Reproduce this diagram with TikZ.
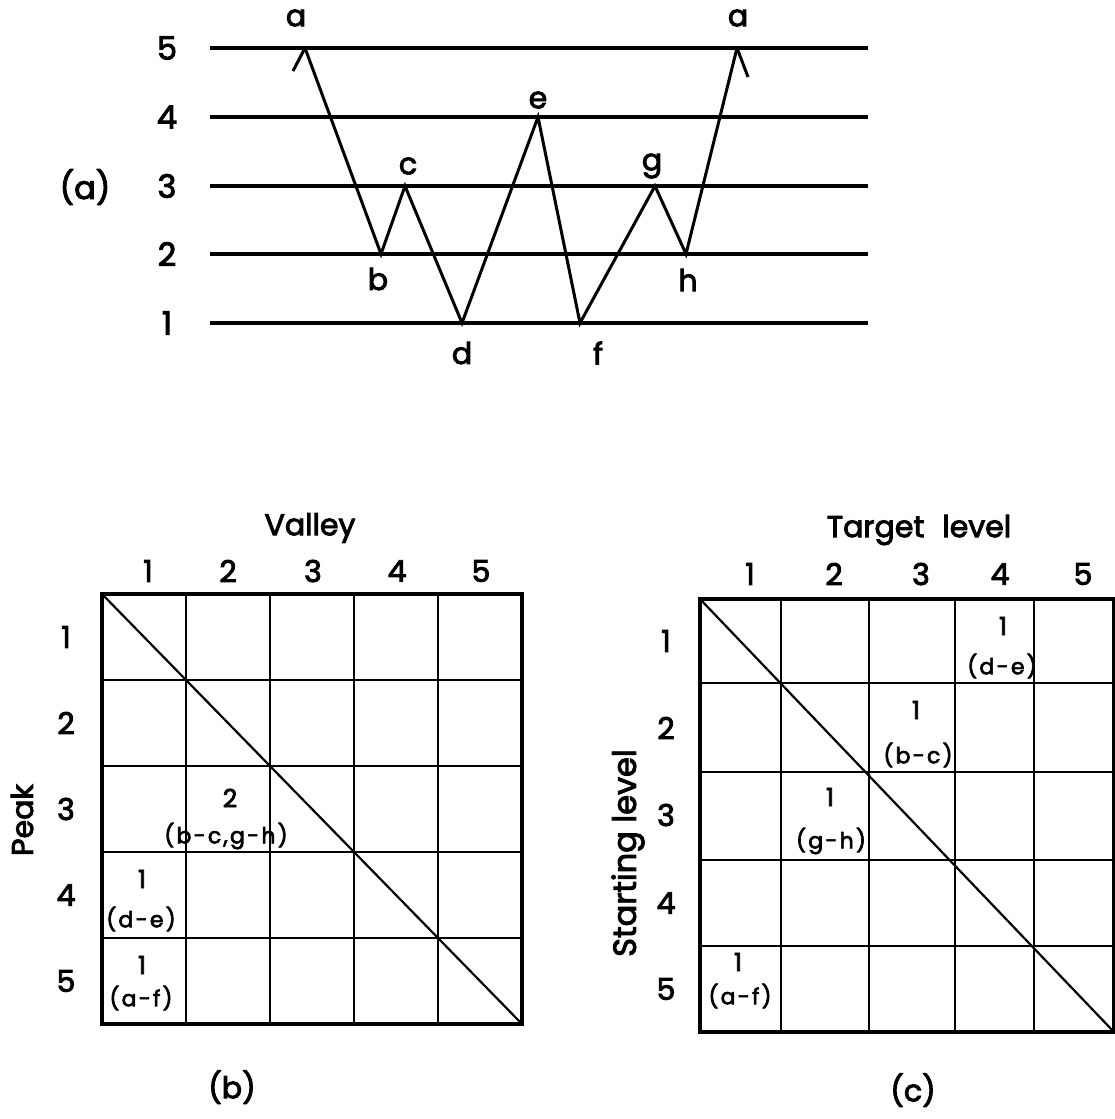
\documentclass[tikz,border=0pt]{standalone}
\usepackage{fontspec}
\setmainfont{Poppins}[FakeBold=3]
\newfontfamily\pairfont{Poppins}[FakeBold=3, LetterSpace=10]
\begin{document}
\begin{tikzpicture}[x=1pt,y=-1pt,
  lvl/.style={line width=3.2pt},
  zig/.style={line width=3pt, line join=miter},
  grd/.style={line width=2.8pt},
  frame/.style={line width=3.4pt},
  diag/.style={line width=2.2pt},
  lab/.style={inner sep=0pt, font=\fontsize{30}{32}\selectfont},
  big/.style={inner sep=0pt, font=\fontsize{32}{34}\selectfont},
  cnt/.style={inner sep=0pt, font=\fontsize{25}{27}\selectfont},
  pairlab/.style={inner sep=0pt, font=\pairfont\fontsize{22}{24}\selectfont},
]
\useasboundingbox (0,0) rectangle (1115,1119);
\fill[white] (0,0) rectangle (1115,1119);

% ---------- (a) ----------
\foreach \n/\y in {5/48,4/117,3/186,2/254,1/323}{
  \coordinate (L\n w) at (210,\y);
  \coordinate (L\n e) at (868,\y);
  \draw[lvl] (L\n w) -- (L\n e);
  \node[big] (n\n) at (167,\y) {\n};
}
\node[big] (capa) at (85,187) {(a)};
\coordinate (pa1) at (305,48);
\coordinate (pb) at (381,254);
\coordinate (pc) at (405,186);
\coordinate (pd) at (462,323);
\coordinate (pe) at (538,117);
\coordinate (pf) at (580,323);
\coordinate (pg) at (655,186);
\coordinate (ph) at (686,254);
\coordinate (pa2) at (737,48);
\coordinate (ba1) at (293,71);
\coordinate (ba2) at (748,77);
\draw[zig] (pa1) -- (pb) -- (pc) -- (pd) -- (pe) -- (pf) -- (pg) -- (ph) -- (pa2);
\draw[zig] (pa1) -- (ba1);
\draw[zig] (pa2) -- (ba2);
\node[lab] (la1) at (296,18) {a};
\node[lab] (la2) at (738,18) {a};
\node[lab] (lb) at (378,279) {b};
\node[lab] (lc) at (408,166) {c};
\node[lab] (ld) at (462,353) {d};
\node[lab] (le) at (538,100) {e};
\node[lab] (lf) at (598,353) {f};
\node[lab] (lg) at (652,166) {g};
\node[lab] (lh) at (688,280) {h};

% ---------- (b) ----------
\foreach \x in {186,270,354,438}{ \draw[grd] (\x,594) -- (\x,1024); }
\foreach \y in {680,766,852,938}{ \draw[grd] (102,\y) -- (522,\y); }
\draw[frame] (102,594) rectangle (522,1024);
\coordinate (btl) at (102,594);
\coordinate (bbr) at (522,1024);
\draw[diag] (btl) -- (bbr);
\node[lab] (bttl) at (310,528) {Valley};
\foreach \n/\x in {1/148,2/228,3/313,4/397,5/481}{ \node[lab] (bc\n) at (\x,571) {\n}; }
\foreach \n/\y in {1/637,2/723,3/809,4/895,5/981}{ \node[lab] (br\n) at (66,\y) {\n}; }
\node[lab, rotate=90] (bpeak) at (22,820) {Peak};
\node[cnt] (b32n) at (230,798) {2};
\node[pairlab] (b32t) at (226,836) {(b-c,g-h)};
\node[cnt] (b41n) at (142,879) {1};
\node[pairlab] (b41t) at (141,919) {(d-e)};
\node[cnt] (b51n) at (142,965) {1};
\node[pairlab] (b51t) at (141,998) {(a-f)};
\node[lab] (capb) at (232,1087) {(b)};

% ---------- (c) ----------
\foreach \x in {781,869,955,1034}{ \draw[grd] (\x,599) -- (\x,1032); }
\foreach \y in {683,772,860,946}{ \draw[grd] (700,\y) -- (1114,\y); }
\draw[frame] (700,599) rectangle (1114,1032);
\coordinate (ctl) at (700,599);
\coordinate (cbr) at (1114,1032);
\draw[diag] (ctl) -- (cbr);
\node[lab] (cttl) at (919,530) {Target\hspace{0.6em}level};
\foreach \n/\x in {1/750,2/834,3/921,4/1000,5/1083}{ \node[lab] (cc\n) at (\x,574) {\n}; }
\foreach \n/\y in {1/641,2/728,3/815,4/903,5/989}{ \node[lab] (cr\n) at (666,\y) {\n}; }
\node[lab, rotate=90, font=\fontsize{32}{34}\selectfont] (cstart) at (628,853) {Starting level};
\node[cnt] (c14n) at (1003,626) {1};
\node[pairlab] (c14t) at (1002,666) {(d-e)};
\node[cnt] (c23n) at (916,710) {1};
\node[pairlab] (c23t) at (918,755) {(b-c)};
\node[cnt] (c32n) at (830,797) {1};
\node[pairlab] (c32t) at (831,841) {(g-h)};
\node[cnt] (c51n) at (738,962) {1};
\node[pairlab] (c51t) at (740,996) {(a-f)};
\node[lab] (capc) at (913,1090) {(c)};
\end{tikzpicture}
\end{document}
